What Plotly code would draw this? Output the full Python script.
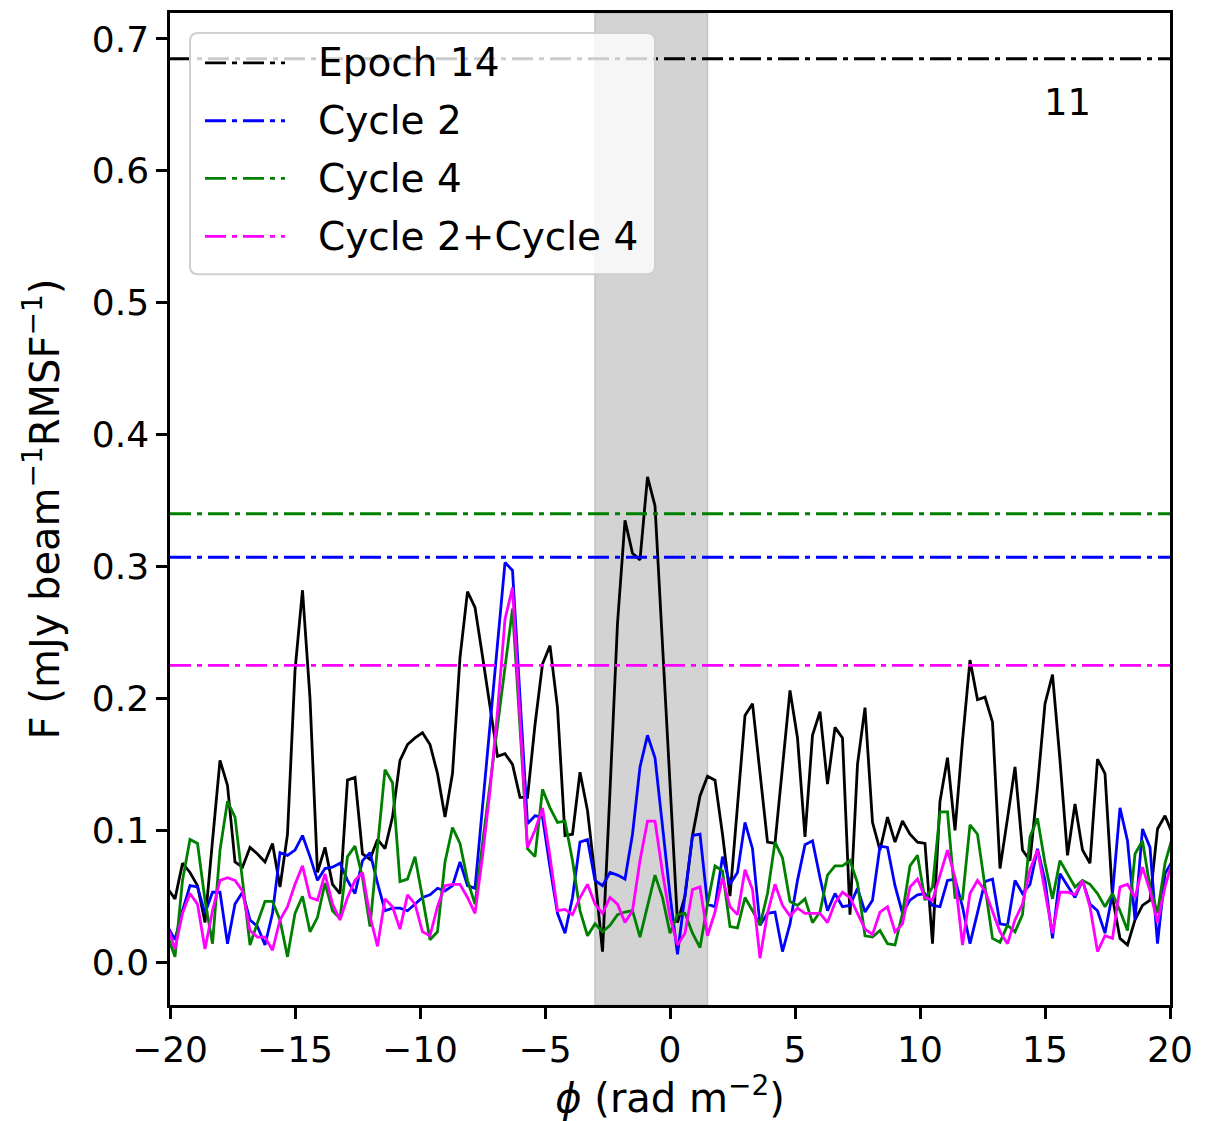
import plotly.graph_objects as go

# Faraday depth grid (rad m^-2): regular sampling, step 0.3
PHI_START = -20.1
PHI_STEP = 0.3
N_SAMPLES = 135
phi = [round(PHI_START + PHI_STEP * k, 2) for k in range(N_SAMPLES)]

# Faraday dispersion amplitudes (mJy beam^-1 RMSF^-1)
epoch14 = [
    0.056, 0.048, 0.075, 0.068, 0.058, 0.030, 0.092, 0.153, 0.134, 0.076,
    0.072, 0.087, 0.082, 0.076, 0.090, 0.057, 0.097, 0.221, 0.282, 0.200,
    0.068, 0.087, 0.059, 0.052, 0.138, 0.140, 0.082, 0.078, 0.093, 0.086,
    0.110, 0.153, 0.165, 0.170, 0.174, 0.165, 0.143, 0.110, 0.143, 0.231,
    0.281, 0.269, 0.232, 0.193, 0.156, 0.158, 0.150, 0.125, 0.125, 0.180,
    0.226, 0.240, 0.193, 0.096, 0.097, 0.144, 0.115, 0.065, 0.008, 0.130,
    0.257, 0.335, 0.310, 0.305, 0.368, 0.346, 0.244, 0.137, 0.030, 0.050,
    0.096, 0.126, 0.141, 0.138, 0.097, 0.050, 0.117, 0.187, 0.196, 0.143,
    0.091, 0.090, 0.148, 0.206, 0.170, 0.095, 0.172, 0.190, 0.135, 0.178,
    0.170, 0.036, 0.150, 0.193, 0.106, 0.085, 0.110, 0.091, 0.107, 0.097,
    0.091, 0.090, 0.014, 0.122, 0.155, 0.100, 0.168, 0.229, 0.199, 0.201,
    0.182, 0.071, 0.109, 0.148, 0.085, 0.077, 0.133, 0.196, 0.218, 0.153,
    0.081, 0.120, 0.085, 0.075, 0.154, 0.143, 0.049, 0.018, 0.013, 0.032,
    0.043, 0.047, 0.101, 0.111, 0.097,
]
cycle2 = [
    0.027, 0.017, 0.039, 0.058, 0.057, 0.037, 0.053, 0.053, 0.014, 0.044,
    0.053, 0.032, 0.027, 0.013, 0.037, 0.083, 0.081, 0.085, 0.096, 0.080,
    0.062, 0.071, 0.072, 0.075, 0.062, 0.052, 0.077, 0.083, 0.060, 0.039,
    0.041, 0.041, 0.039, 0.044, 0.049, 0.051, 0.056, 0.054, 0.058, 0.076,
    0.058, 0.056, 0.117, 0.179, 0.241, 0.303, 0.297, 0.198, 0.105, 0.111,
    0.110, 0.072, 0.037, 0.022, 0.049, 0.091, 0.093, 0.062, 0.058, 0.068,
    0.066, 0.063, 0.097, 0.148, 0.172, 0.155, 0.102, 0.051, 0.006, 0.050,
    0.096, 0.097, 0.044, 0.042, 0.080, 0.059, 0.068, 0.106, 0.086, 0.028,
    0.037, 0.038, 0.008, 0.029, 0.062, 0.089, 0.092, 0.064, 0.039, 0.052,
    0.042, 0.043, 0.056, 0.038, 0.047, 0.088, 0.087, 0.058, 0.037, 0.047,
    0.051, 0.052, 0.043, 0.042, 0.062, 0.063, 0.042, 0.014, 0.037, 0.061,
    0.063, 0.029, 0.028, 0.062, 0.052, 0.059, 0.086, 0.062, 0.018, 0.067,
    0.058, 0.049, 0.062, 0.044, 0.039, 0.022, 0.052, 0.117, 0.092, 0.032,
    0.101, 0.087, 0.014, 0.067, 0.077,
]
cycle4 = [
    0.020, 0.004, 0.062, 0.093, 0.090, 0.047, 0.014, 0.085, 0.122, 0.110,
    0.062, 0.013, 0.030, 0.046, 0.046, 0.032, 0.004, 0.037, 0.050, 0.023,
    0.034, 0.060, 0.039, 0.033, 0.080, 0.088, 0.064, 0.027, 0.087, 0.146,
    0.136, 0.061, 0.063, 0.080, 0.049, 0.017, 0.023, 0.076, 0.102, 0.090,
    0.062, 0.044, 0.090, 0.135, 0.180, 0.225, 0.268, 0.178, 0.086, 0.080,
    0.131, 0.117, 0.106, 0.107, 0.077, 0.039, 0.020, 0.029, 0.023, 0.028,
    0.036, 0.038, 0.039, 0.019, 0.043, 0.066, 0.049, 0.022, 0.036, 0.037,
    0.022, 0.011, 0.044, 0.073, 0.069, 0.027, 0.026, 0.049, 0.039, 0.028,
    0.052, 0.091, 0.079, 0.046, 0.043, 0.048, 0.030, 0.038, 0.066, 0.073,
    0.073, 0.077, 0.060, 0.020, 0.019, 0.024, 0.014, 0.013, 0.037, 0.073,
    0.081, 0.047, 0.057, 0.114, 0.114, 0.049, 0.048, 0.104, 0.097, 0.057,
    0.018, 0.015, 0.028, 0.023, 0.036, 0.095, 0.109, 0.075, 0.048, 0.077,
    0.067, 0.057, 0.062, 0.059, 0.052, 0.042, 0.052, 0.039, 0.024, 0.082,
    0.092, 0.057, 0.037, 0.075, 0.095,
]
cycle2_4 = [
    0.027, 0.010, 0.037, 0.052, 0.044, 0.010, 0.039, 0.062, 0.064, 0.062,
    0.054, 0.024, 0.019, 0.019, 0.009, 0.032, 0.042, 0.059, 0.073, 0.049,
    0.047, 0.067, 0.044, 0.032, 0.049, 0.062, 0.068, 0.035, 0.012, 0.048,
    0.042, 0.025, 0.051, 0.044, 0.023, 0.020, 0.042, 0.058, 0.059, 0.059,
    0.049, 0.037, 0.080, 0.130, 0.190, 0.260, 0.284, 0.185, 0.087, 0.100,
    0.117, 0.080, 0.039, 0.040, 0.036, 0.049, 0.059, 0.044, 0.037, 0.049,
    0.044, 0.030, 0.039, 0.077, 0.107, 0.107, 0.068, 0.034, 0.013, 0.022,
    0.055, 0.057, 0.020, 0.038, 0.064, 0.042, 0.036, 0.070, 0.055, 0.003,
    0.037, 0.059, 0.043, 0.035, 0.041, 0.037, 0.037, 0.037, 0.030, 0.045,
    0.053, 0.049, 0.037, 0.025, 0.021, 0.038, 0.042, 0.023, 0.029, 0.057,
    0.063, 0.049, 0.047, 0.067, 0.085, 0.064, 0.013, 0.052, 0.062, 0.054,
    0.039, 0.023, 0.014, 0.032, 0.044, 0.070, 0.085, 0.052, 0.022, 0.053,
    0.053, 0.051, 0.062, 0.042, 0.008, 0.020, 0.018, 0.057, 0.059, 0.049,
    0.072, 0.054, 0.030, 0.057, 0.077,
]

# Detection thresholds per data set
series_names = ["Epoch 14", "Cycle 2", "Cycle 4", "Cycle 2+Cycle 4"]
series_colors = ["black", "#0000ff", "#008000", "#ff00ff"]
thresholds = [0.685, 0.307, 0.340, 0.225]

# Excluded Faraday-depth window
band = [-3.0, 1.5]
panel_label = "11"

FONT = "DejaVu Sans"
DASHDOT = "21px,6px,5px,6px"

fig = go.Figure()

for name, color, ys in zip(series_names, series_colors, [epoch14, cycle2, cycle4, cycle2_4]):
    fig.add_trace(go.Scatter(
        x=phi, y=ys, mode="lines", name=name, showlegend=False,
        line=dict(color=color, width=2.8),
    ))

fig.add_vrect(x0=band[0], x1=band[1], fillcolor="#d3d3d3", opacity=1,
              line=dict(color="#c4c4c4", width=1.5), layer="below")

for color, thr in zip(series_colors, thresholds):
    fig.add_hline(y=thr, line=dict(color=color, width=2.8, dash=DASHDOT), layer="above")

# Legend panel (paper coordinates of the plotting area)
lx0, lx1, ly0, ly1, r = 0.020, 0.485, 0.7367, 0.9799, 0.008
ry = r * 1000 / 995
box = (f"M{lx0 + r},{ly0} L{lx1 - r},{ly0} Q{lx1},{ly0} {lx1},{ly0 + ry} "
       f"L{lx1},{ly1 - ry} Q{lx1},{ly1} {lx1 - r},{ly1} L{lx0 + r},{ly1} "
       f"Q{lx0},{ly1} {lx0},{ly1 - ry} L{lx0},{ly0 + ry} Q{lx0},{ly0} {lx0 + r},{ly0} Z")
fig.add_shape(type="path", path=box, xref="paper", yref="paper",
              fillcolor="rgba(255,255,255,0.8)", line=dict(color="#cfcfcf", width=2),
              layer="above")
row_y = [0.9497, 0.8914, 0.8332, 0.7749]
for name, color, yy in zip(series_names, series_colors, row_y):
    fig.add_shape(type="line", xref="paper", yref="paper", x0=0.035, x1=0.115, y0=yy, y1=yy,
                  line=dict(color=color, width=2.8, dash=DASHDOT), layer="above")
    fig.add_annotation(x=0.146, y=yy, xref="paper", yref="paper", text=name, showarrow=False,
                       xanchor="left", yanchor="middle", font=dict(family=FONT, size=39, color="black"))

fig.add_annotation(x=0.897, y=0.9095, xref="paper", yref="paper", text=panel_label, showarrow=False,
                   xanchor="center", yanchor="middle", font=dict(family=FONT, size=37, color="black"))

axis_common = dict(
    showline=True, linecolor="black", linewidth=2.5, mirror=True,
    ticks="outside", ticklen=11, tickwidth=2.5, tickcolor="black",
    showgrid=False, zeroline=False,
    tickfont=dict(family=FONT, size=36, color="black"),
)

fig.update_xaxes(
    range=[-20, 20], tickmode="array", tickvals=[-20, -15, -10, -5, 0, 5, 10, 15, 20],
    title=dict(text="<i>ϕ</i> (rad m<sup>−2</sup>)", font=dict(family=FONT, size=40, color="black"), standoff=10),
    **axis_common,
)
fig.update_yaxes(
    range=[-0.0325, 0.7197], tickmode="array", tickvals=[0, 0.1, 0.2, 0.3, 0.4, 0.5, 0.6, 0.7],
    tickformat=".1f",
    title=dict(text="F (mJy beam<sup>−1</sup>RMSF<sup>−1</sup>)", font=dict(family=FONT, size=40, color="black"), standoff=20),
    **axis_common,
)

fig.update_layout(
    width=1217, height=1121,
    margin=dict(l=170, r=47, t=10, b=116),
    plot_bgcolor="white", paper_bgcolor="white",
    font=dict(family=FONT, color="black"),
    showlegend=False,
)

fig.write_html("out.html")
